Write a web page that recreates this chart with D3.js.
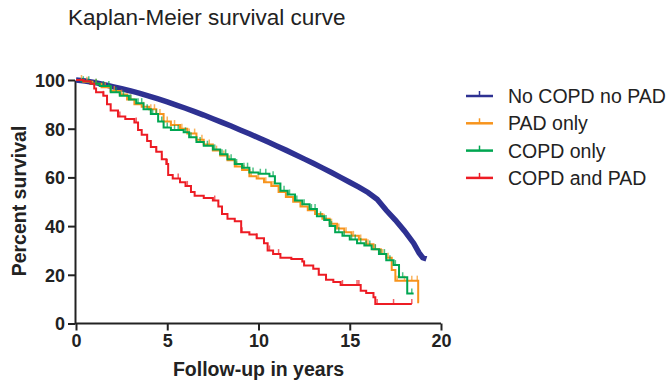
<!DOCTYPE html>
<html>
<head>
<meta charset="utf-8">
<script src="https://cdn.jsdelivr.net/npm/d3@7"></script>
<style>
  body { margin: 0; background: #fff; }
  svg { font-family: "Liberation Sans", Arial, sans-serif; }
  .axis path, .axis line { stroke: #222; stroke-width: 2; }
  .axis text { font-size: 18px; font-weight: bold; fill: #222; }
</style>
</head>
<body>
<div id="chart"></div>
<script>
// Kaplan-Meier survival curve, four groups

// Group names and colours (legend order)
const groups = ['No COPD no PAD', 'PAD only', 'COPD only', 'COPD and PAD'];
const colors = ['#2e3192', '#f7941d', '#00a651', '#ed1c24'];

// Survival steps [years, percent]
const noCopdNoPad = [[0,100],[0.5,99.6],[1,99],[1.5,98.2],[2,97.3],[2.5,96.4],[3,95.5],[3.5,94.5],
  [4,93.4],[4.5,92.2],[5,91],[5.5,89.7],[6,88.4],[6.5,87],[7,85.6],[7.5,84.1],[8,82.6],[8.5,81.1],
  [9,79.5],[9.5,77.9],[10,76.3],[10.5,74.6],[11,72.9],[11.5,71.2],[12,69.4],[12.5,67.6],[13,65.8],
  [13.5,63.9],[14,62],[14.5,60],[15,58],[15.5,56],[16,53.8],[16.5,51],[17,46.5],[17.5,42.5],
  [18,38],[18.5,33],[18.8,29],[19,27],[19.2,26.5]];

const padOnly = [[0,100],[0.4,99.3],[0.9,98.5],[1.4,97],[1.9,95.5],[2.4,94],[2.8,92],[3.2,90],
  [3.6,89],[4,88],[4.4,86],[4.8,83],[5.2,81.5],[5.7,80],[6.1,78],[6.6,75.5],[7,73.5],[7.5,71],
  [7.9,69],[8.3,67],[8.7,64.5],[9.1,63],[9.5,60.5],[9.9,59.5],[10.3,58],[10.7,56.5],[11.1,54],
  [11.5,52],[11.9,50],[12.3,48],[12.7,46.5],[13.1,45],[13.5,43],[13.9,41],[14.3,39],[14.7,37.5],
  [15.1,36],[15.5,34.5],[15.9,32.5],[16.3,30.5],[16.7,28.5],[17,27],[17.3,22],[17.5,17.6],
  [18.75,8.7],[18.8,8.7]];

const copdOnly = [[0,100],[0.3,99.5],[0.8,98.5],[1.3,97.5],[1.9,95],[2.4,93.5],[2.9,92],[3.3,90.5],
  [3.7,88],[4.1,86],[4.5,83],[4.8,80.5],[5.2,79.5],[5.9,78.5],[6.2,76.5],[6.6,74.5],[7,73],
  [7.5,71.5],[7.9,69.5],[8.3,67.5],[8.7,65.5],[9.1,64],[9.5,62],[10,61.5],[10.6,60.5],[10.9,57.5],
  [11.2,54.5],[11.6,53],[12,50.5],[12.4,49],[12.8,47],[13.2,44],[13.6,42.5],[13.9,40],[14.2,37.5],
  [14.6,36],[15,34.5],[15.4,33],[15.8,32],[16.2,30.5],[16.6,28.5],[17,26],[17.4,24],[17.7,19],
  [18.15,12.3],[18.5,12.3]];

const copdAndPad = [[0,100],[0.4,99.5],[0.8,98.5],[1,96.5],[1.1,95],[1.5,93.5],[1.7,90],[1.9,87.5],
  [2.3,85],[2.7,84],[3.2,82.5],[3.4,79.5],[3.6,77.5],[3.9,75],[4.1,72.5],[4.4,70.5],[4.7,67.5],
  [4.95,65.5],[5.05,61],[5.3,59.5],[5.7,58],[6,56.5],[6.3,54],[6.5,52.5],[7,51.5],[7.5,50.5],
  [7.8,48],[8,45],[8.3,43],[8.7,42],[9.05,37.5],[9.5,36.5],[9.9,35],[10.3,33],[10.5,30],
  [10.8,28.5],[11.2,27],[11.8,26.5],[12.4,25.5],[12.5,23.8],[13,22.5],[13.3,20],[13.7,18],
  [14.1,17],[14.5,15.8],[15.6,13.5],[15.9,12.5],[16.3,10.8],[16.4,8],[18.4,8]];

// Censored observation times (years)
const padCensored = [0.3,0.6,1.1,1.6,2.1,2.5,3.0,3.3,3.7,4.1,4.3,4.6,5.0,5.4,5.8,6.2,6.5,6.9,7.3,
  7.7,8.1,8.4,8.8,9.2,9.6,10.0,10.4,10.8,11.2,11.6,12.0,12.4,12.8,13.2,13.6,14.0,14.4,14.8,15.2,
  15.6,16.0,16.4,16.8,17.1,17.6,18.0,18.4,18.7];
const copdCensored = [0.4,0.7,1.1,1.5,1.8,2.2,2.6,3.0,3.4,3.6,3.9,4.2,4.4,4.7,5.0,5.4,5.6,6.0,6.3,
  6.8,7.2,7.6,8.0,8.2,8.5,8.8,9.2,9.4,9.7,10.1,10.4,10.8,11.4,11.7,12.1,12.5,12.9,13.1,13.4,13.7,
  14.0,14.4,14.7,15.1,15.3,15.6,15.9,16.1,16.4,16.7,16.9,17.2,17.5,17.9,18.4];
const copdPadCensored = [1.5,2.4,3.3,3.9,4.4,4.7,5.0,5.6,6.1,7.6,8.0,9.1,9.9,10.3,10.6,11.1,
  12.5,13.3,14.6,15.4,15.5,16.5,17.4,18.4];

const xTicks = [0, 5, 10, 15, 20];
const yTicks = [0, 20, 40, 60, 80, 100];

const series = [
  { name: groups[0], color: colors[0], steps: noCopdNoPad, censored: [], smooth: true, width: 5.5 },
  { name: groups[1], color: colors[1], steps: padOnly, censored: padCensored, smooth: false, width: 2 },
  { name: groups[2], color: colors[2], steps: copdOnly, censored: copdCensored, smooth: false, width: 2 },
  { name: groups[3], color: colors[3], steps: copdAndPad, censored: copdPadCensored, smooth: false, width: 2 }
];

const W = 672, H = 382;
const svg = d3.select('#chart').append('svg')
  .attr('width', W)
  .attr('height', H);

const x = d3.scaleLinear().domain([0, 20]).range([76, 441]);
const y = d3.scaleLinear().domain([0, 100]).range([323.5, 80]);

// Title
svg.append('text')
  .attr('x', 68)
  .attr('y', 25)
  .style('font-size', '22.5px')
  .style('fill', '#222')
  .text('Kaplan-Meier survival curve');

// Axes
svg.append('g')
  .attr('class', 'axis')
  .attr('transform', `translate(0, ${y(0)})`)
  .call(d3.axisBottom(x).tickValues(xTicks).tickSize(7).tickSizeOuter(0).tickPadding(4))
  .select('.domain').attr('d', `M${x(0) - 1},0H${x(20)}`);

svg.append('g')
  .attr('class', 'axis')
  .attr('transform', `translate(${x(0) - 1}, 0)`)
  .call(d3.axisLeft(y).tickValues(yTicks).tickSize(7).tickSizeOuter(0).tickPadding(3))
  .selectAll('text').attr('dy', '0.36em');

// Axis titles
svg.append('text')
  .attr('x', (x(0) + x(20)) / 2)
  .attr('y', 376)
  .attr('text-anchor', 'middle')
  .style('font-size', '19.5px')
  .style('font-weight', 'bold')
  .style('fill', '#222')
  .text('Follow-up in years');

svg.append('text')
  .attr('transform', 'translate(26, 201) rotate(-90)')
  .attr('text-anchor', 'middle')
  .style('font-size', '19.5px')
  .style('font-weight', 'bold')
  .style('fill', '#222')
  .text('Percent survival');

// Curves
const stepLine = d3.line()
  .x(d => x(d[0]))
  .y(d => y(d[1]))
  .curve(d3.curveStepAfter);
const smoothLine = d3.line()
  .x(d => x(d[0]))
  .y(d => y(d[1]));

const bisect = d3.bisector(d => d[0]).right;
function survivalAt(steps, t) {
  const i = Math.max(0, bisect(steps, t) - 1);
  return steps[i][1];
}

const curves = svg.append('g');
series.forEach(s => {
  curves.append('path')
    .datum(s.steps)
    .attr('fill', 'none')
    .attr('stroke', s.color)
    .attr('stroke-width', s.width)
    .attr('d', s.smooth ? smoothLine : stepLine);

  curves.selectAll(null)
    .data(s.censored)
    .enter()
    .append('line')
    .attr('x1', d => x(d))
    .attr('x2', d => x(d))
    .attr('y1', d => y(survivalAt(s.steps, d)))
    .attr('y2', d => y(survivalAt(s.steps, d)) - 5)
    .attr('stroke', s.color)
    .attr('stroke-width', 1.5)
    .attr('stroke-opacity', 0.7);
});

// Legend
const legend = svg.append('g');
groups.forEach((name, i) => {
  const ly = 96 + i * 27.3;
  legend.append('line')
    .attr('x1', 466).attr('x2', 493)
    .attr('y1', ly).attr('y2', ly)
    .attr('stroke', colors[i])
    .attr('stroke-width', 2.5);
  legend.append('line')
    .attr('x1', 479.5).attr('x2', 479.5)
    .attr('y1', ly).attr('y2', ly - 5)
    .attr('stroke', colors[i])
    .attr('stroke-width', 1.5);
  legend.append('text')
    .attr('x', 508)
    .attr('y', ly + 7)
    .style('font-size', '19.5px')
    .style('fill', '#222')
    .text(name);
});
</script>
</body>
</html>
